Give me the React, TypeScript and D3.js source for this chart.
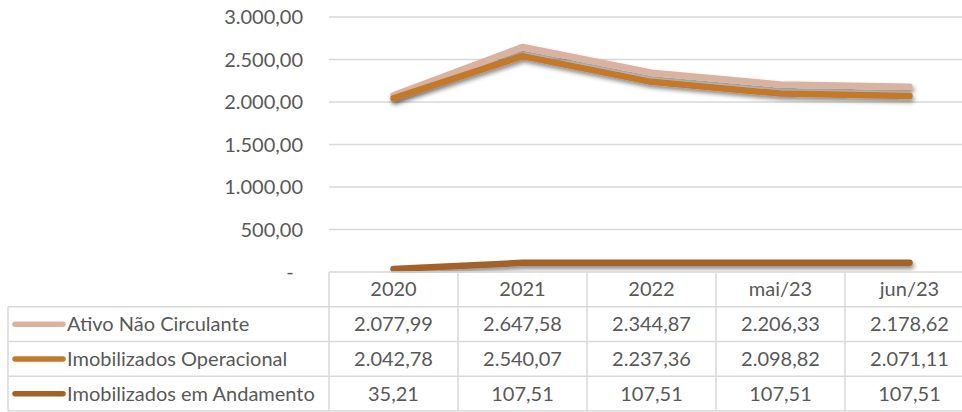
import * as d3 from 'd3';

const categories = ['2020', '2021', '2022', 'mai/23', 'jun/23'];
const seriesNames = ['Ativo Não Circulante', 'Imobilizados Operacional', 'Imobilizados em Andamento'];
const ativoNaoCirculante = [2077.99, 2647.58, 2344.87, 2206.33, 2178.62];
const imobilizadosOperacional = [2042.78, 2540.07, 2237.36, 2098.82, 2071.11];
const imobilizadosAndamento = [35.21, 107.51, 107.51, 107.51, 107.51];
const yTicks = [0, 500, 1000, 1500, 2000, 2500, 3000];
const colors = ['#D9B39F', '#C4782B', '#A2622A'];

const allSeries = [ativoNaoCirculante, imobilizadosOperacional, imobilizadosAndamento];

const width = 962;
const height = 412;
const plotLeft = 329;
const plotRight = 974; // the table runs off the right edge, like the original
const tableLeft = 8;
const font = 'Lato, "Open Sans", sans-serif';
const fontSize = 20;
const textColor = '#595959';
const gridColor = '#D9D9D9';

const ptBR = d3.formatLocale({ decimal: ',', thousands: '.', grouping: [3], currency: ['R$', ''] });
const fmt = ptBR.format(',.2f');

const App = () => {
  const x = d3.scaleBand<string>().domain(categories).range([plotLeft, plotRight]);
  const y = d3.scaleLinear().domain([0, 3000]).range([272, 17]);
  const rows = d3.scaleBand<string>().domain(['header', ...seriesNames]).range([y(0), 411]);

  const line = d3.line<number>()
    .x((d, i) => x(categories[i])! + x.bandwidth() / 2)
    .y(d => y(d));

  const tableBottom = rows.range()[1];

  return (
    <svg width={width} height={height} style={{ position: 'absolute', left: 0, top: 0, display: 'block' }}
      fontFamily={font}>
      <defs>
        <filter id="shadow" x="-10%" y="-50%" width="120%" height="200%">
          <feDropShadow dx="1.5" dy="3" stdDeviation="2" floodColor="#000" floodOpacity="0.45" />
        </filter>
      </defs>

      {/* gridlines + y labels */}
      {yTicks.map(t => (
        <g key={t}>
          {t > 0 && <line x1={plotLeft} x2={plotRight} y1={y(t)} y2={y(t)} stroke={gridColor} strokeWidth={1.3} />}
          <text x={t === 0 ? 290 : 303} y={y(t)} dy="0.35em" textAnchor={t === 0 ? 'middle' : 'end'}
            fontSize={fontSize} fill={textColor}>{t === 0 ? '-' : fmt(t)}</text>
        </g>
      ))}

      {/* lines */}
      {allSeries.map((s, i) => (
        <path key={i} d={line(s) ?? ''} fill="none" stroke={colors[i]} strokeWidth={6.5}
          strokeLinecap="round" strokeLinejoin="round" filter="url(#shadow)" />
      ))}

      {/* data table */}
      <g stroke={gridColor} strokeWidth={1.5} fill="none">
        <line x1={plotLeft} x2={plotRight} y1={rows('header')!} y2={rows('header')!} />
        {seriesNames.map(n => (
          <line key={n} x1={tableLeft} x2={plotRight} y1={rows(n)!} y2={rows(n)!} />
        ))}
        <line x1={tableLeft} x2={plotRight} y1={tableBottom} y2={tableBottom} />
        <line x1={tableLeft} x2={tableLeft} y1={rows(seriesNames[0])!} y2={tableBottom} />
        {categories.map(c => (
          <line key={c} x1={x(c)!} x2={x(c)!} y1={rows('header')!} y2={tableBottom} />
        ))}
        <line x1={plotRight} x2={plotRight} y1={rows('header')!} y2={tableBottom} />
      </g>

      {categories.map(c => (
        <text key={c} x={x(c)! + x.bandwidth() / 2} y={rows('header')! + rows.bandwidth() / 2} dy="0.35em"
          textAnchor="middle" fontSize={fontSize} fill={textColor}>{c}</text>
      ))}

      {seriesNames.map((n, i) => {
        const cy = rows(n)! + rows.bandwidth() / 2;
        return (
          <g key={n}>
            <line x1={15} x2={63} y1={cy} y2={cy} stroke={colors[i]} strokeWidth={5.5} strokeLinecap="round" />
            <text x={67} y={cy} dy="0.35em" fontSize={fontSize} fill={textColor}>{n}</text>
            {allSeries[i].map((v, j) => (
              <text key={j} x={x(categories[j])! + x.bandwidth() / 2} y={cy} dy="0.35em" textAnchor="middle"
                fontSize={fontSize} fill={textColor}>{fmt(v)}</text>
            ))}
          </g>
        );
      })}
    </svg>
  );
};

export default App;
